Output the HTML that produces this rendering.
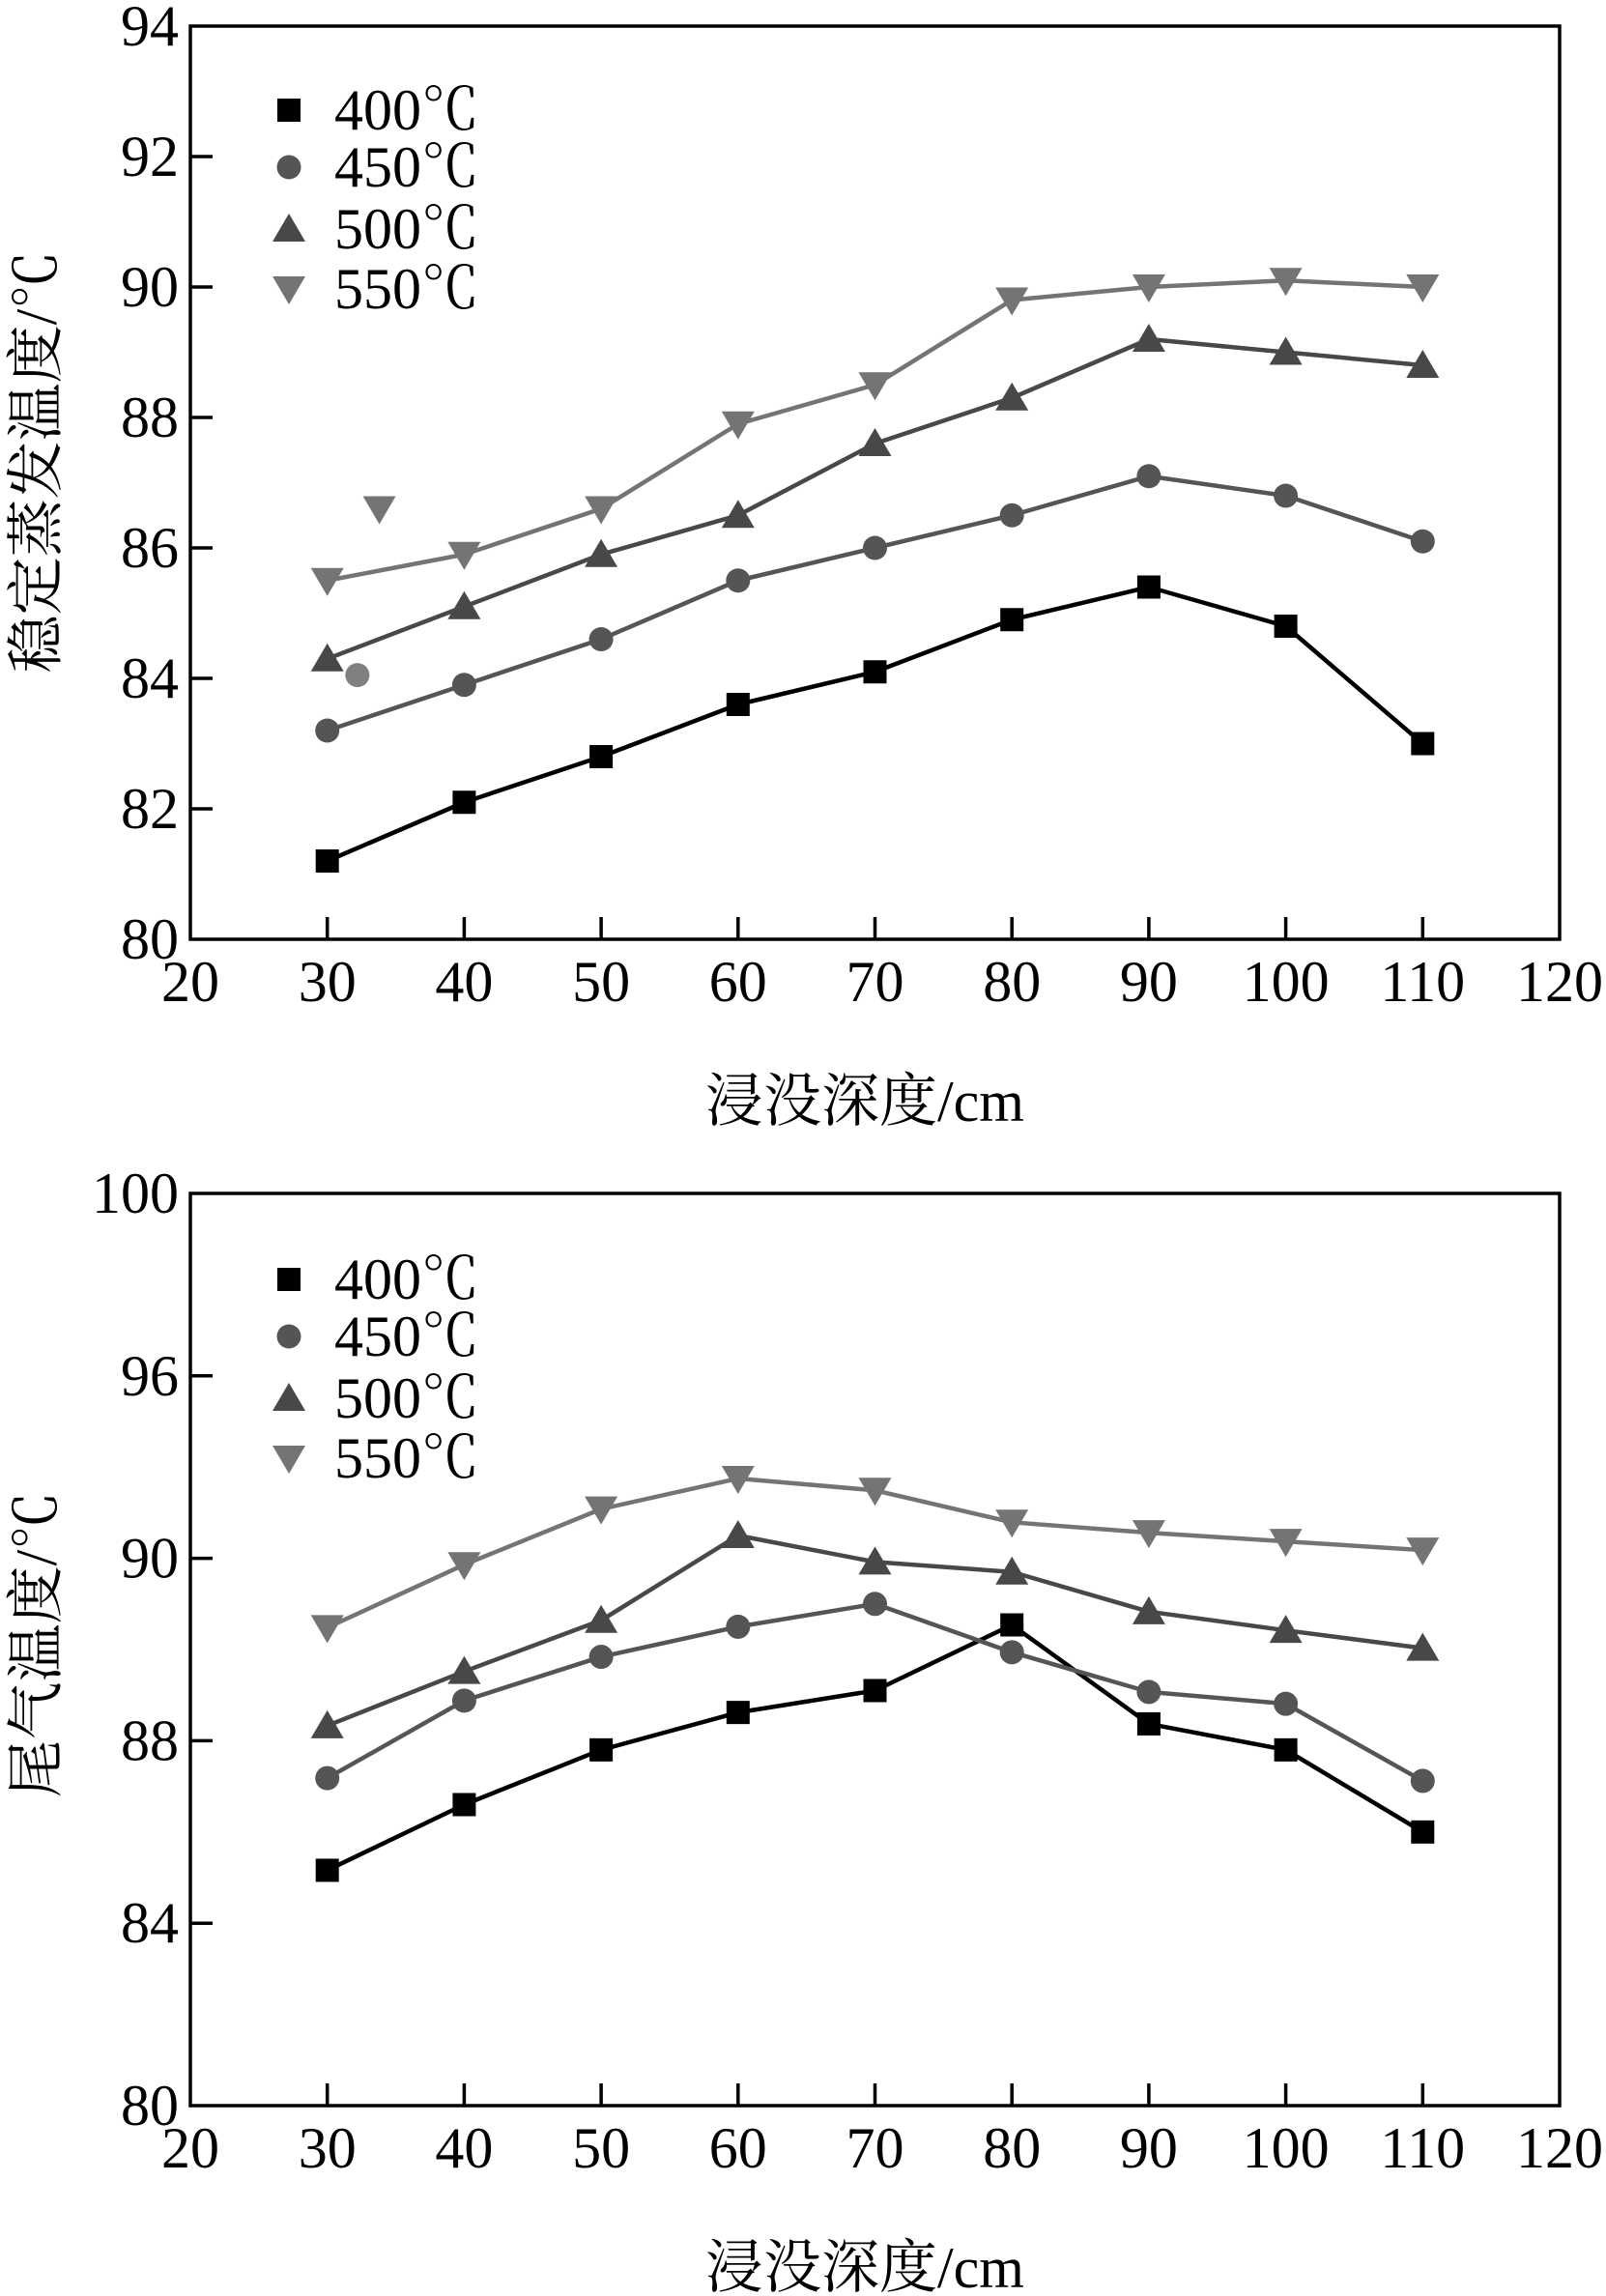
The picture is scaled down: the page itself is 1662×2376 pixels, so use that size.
<!DOCTYPE html>
<html><head><meta charset="utf-8">
<style>
html,body{margin:0;padding:0;background:#fff;}
svg{display:block;}
text{font-family:"Liberation Serif","Noto Serif CJK SC",serif;fill:#000;}
</style></head>
<body>
<svg id="fig" width="1662" height="2376" viewBox="0 0 1662 2376" xmlns="http://www.w3.org/2000/svg"></svg>
<script>
// ---- shared data ----
const depths = [30, 40, 50, 60, 70, 80, 90, 100, 110];
const seriesNames = ["400℃", "450℃", "500℃", "550℃"];
const xTicks = [20, 30, 40, 50, 60, 70, 80, 90, 100, 110, 120];

// ---- chart 1: steady evaporation temperature ----
const evap400 = [81.2, 82.1, 82.8, 83.6, 84.1, 84.9, 85.4, 84.8, 83.0];
const evap450 = [83.2, 83.9, 84.6, 85.5, 86.0, 86.5, 87.1, 86.8, 86.1];
const evap500 = [84.3, 85.1, 85.9, 86.5, 87.6, 88.3, 89.2, 89.0, 88.8];
const evap550 = [85.5, 85.9, 86.6, 87.9, 88.5, 89.8, 90.0, 90.1, 90.0];
const evapStrayX = [32.2, 33.8];
const evapStrayY = [84.05, 86.6];
const evapYTicks = [80, 82, 84, 86, 88, 90, 92, 94];

// ---- chart 2: exhaust temperature ----
const exh400 = [85.16, 86.6, 87.8, 88.62, 89.1, 90.54, 88.37, 87.8, 86.0];
const exh450 = [87.18, 88.88, 89.84, 90.5, 91.0, 89.94, 89.07, 88.81, 87.12];
const exh500 = [88.33, 89.52, 90.64, 92.5, 91.92, 91.7, 90.83, 90.42, 90.03];
const exh550 = [90.48, 91.86, 93.08, 93.75, 93.49, 92.79, 92.56, 92.37, 92.18];
const exhYTickVals = [80, 84, 88, 92, 96, 100];
const exhYTickLabels = ["80", "84", "88", "90", "96", "100"];

const NS = "http://www.w3.org/2000/svg";
const svg = document.getElementById("fig");
const colors = ["#000000", "#555555", "#484848", "#747474"];
const shapes = ["square", "circle", "up", "down"];

function mk(tag, attrs, parent) {
  const e = document.createElementNS(NS, tag);
  for (const k in attrs) e.setAttribute(k, attrs[k]);
  (parent || svg).appendChild(e);
  return e;
}
function marker(g, shape, cx, cy, color, name) {
  let e;
  if (shape === "square") e = mk("rect", {x: cx - 12, y: cy - 12, width: 24, height: 24, fill: color}, g);
  else if (shape === "circle") e = mk("circle", {cx: cx, cy: cy, r: 12.5, fill: color}, g);
  else if (shape === "up") e = mk("polygon", {points: `${cx-17},${cy+13} ${cx+17},${cy+13} ${cx},${cy-16}`, fill: color}, g);
  else e = mk("polygon", {points: `${cx-17},${cy-13} ${cx+17},${cy-13} ${cx},${cy+16}`, fill: color}, g);
  
  
  return e;
}

function chart(opt) {
  const L = 197, R = 1614, T = opt.top, B = opt.bottom;
  const xS = v => L + (v - 20) / 100 * (R - L);
  const yS = v => B - (v - opt.ymin) / (opt.ymax - opt.ymin) * (B - T);
  const g = mk("g", {});
  
  

  const frame = mk("rect", {x: L, y: T, width: R - L, height: B - T, fill: "none", stroke: "#000", "stroke-width": 3.5}, g);
  
  

  xTicks.forEach(v => {
    const x = xS(v);
    if (v > 20 && v < 120) {
      const t = mk("line", {x1: x, x2: x, y1: B, y2: B - 23, stroke: "#000", "stroke-width": 3.5}, g);
      
      
    }
    const tx = mk("text", {x: x, y: B + 64, "text-anchor": "middle", "font-size": 60}, g);
    tx.textContent = v;
    
    
  });
  opt.yticks.forEach((v, i) => {
    const y = yS(v);
    if (v > opt.ymin && v < opt.ymax) {
      const t = mk("line", {x1: L, x2: L + 23, y1: y, y2: y, stroke: "#000", "stroke-width": 3.5}, g);
      
      
    }
    const tx = mk("text", {x: L - 12, y: y + 20, "text-anchor": "end", "font-size": 60}, g);
    tx.textContent = opt.ylabels[i];
    
    
  });

  opt.series.forEach((vals, si) => {
    const pts = depths.map((d, i) => xS(d) + "," + yS(vals[i])).join(" ");
    const pl = mk("polyline", {points: pts, fill: "none", stroke: colors[si], "stroke-width": 4.5, "stroke-linejoin": "round"}, g);
    
    
    depths.forEach((d, i) => marker(g, shapes[si], xS(d), yS(vals[i]), colors[si], 'point-' + seriesNames[si].replace("℃", "c")));
  });
  if (opt.strayX) {
    marker(g, "circle", xS(opt.strayX[0]), yS(opt.strayY[0]), "#808080", 'stray-point');
    marker(g, "down", xS(opt.strayX[1]), yS(opt.strayY[1]), "#747474", 'stray-point');
  }

  const lg = mk("g", {}, g);
  
  
  const legY = [114, 173, 237, 299];
  seriesNames.forEach((n, i) => {
    const cy = T + opt.legOff + legY[i] - 114;
    marker(lg, shapes[i], 299, cy, colors[i], 'legend-marker');
    const tx = mk("text", {x: 346, y: cy + 20, "font-size": 60}, lg);
    tx.textContent = n;
    
    
  });

  const xt = mk("text", {x: 895, y: B + 188, "text-anchor": "middle", "font-size": 60}, g);
  xt.textContent = "浸没深度/cm";
  
  
  const yt = mk("text", {x: 0, y: 0, "text-anchor": "middle", "font-size": 60, transform: `translate(58,${opt.ytitleY}) rotate(-90)`}, g);
  yt.textContent = opt.ytitle;
  
  
}

chart({name: "evaporation-chart", top: 27, bottom: 972, ymin: 80, ymax: 94,
  yticks: evapYTicks, ylabels: evapYTicks.map(String),
  series: [evap400, evap450, evap500, evap550],
  strayX: evapStrayX, strayY: evapStrayY, legOff: 87,
  ytitle: "稳定蒸发温度/℃", ytitleY: 478});

chart({name: "exhaust-chart", top: 1235, bottom: 2179, ymin: 80, ymax: 100,
  yticks: exhYTickVals, ylabels: exhYTickLabels,
  series: [exh400, exh450, exh500, exh550],
  legOff: 89, ytitle: "尾气温度/℃", ytitleY: 1702});
</script>
</body></html>
